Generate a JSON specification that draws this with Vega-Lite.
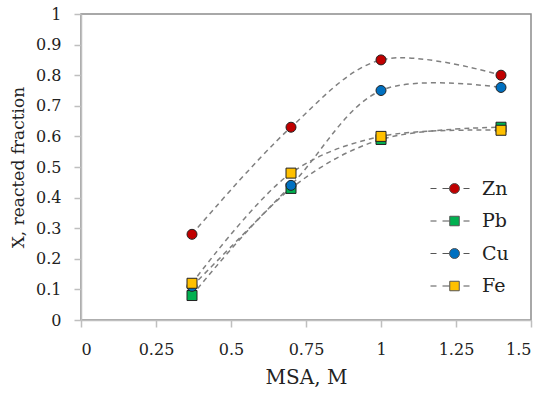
{
  "$schema": "https://vega.github.io/schema/vega-lite/v6.json",
  "width": 450,
  "height": 306,
  "autosize": "none",
  "padding": {"left": 81, "top": 14, "right": 19, "bottom": 74},
  "background": "white",
  "config": {
    "font": "DejaVu Serif",
    "view": {"stroke": "#8c8c8c", "strokeWidth": 1.5},
    "axis": {
      "grid": false,
      "domainColor": "#bfbfbf",
      "domainWidth": 1.5,
      "tickColor": "#bfbfbf",
      "tickWidth": 1.5,
      "tickSize": 7,
      "labelFont": "DejaVu Serif",
      "labelFontSize": 16,
      "labelColor": "#222",
      "titleFont": "DejaVu Serif",
      "titleFontWeight": "normal",
      "titleColor": "#222"
    },
    "legend": {"labelFont": "DejaVu Serif"}
  },
  "data": {
    "values": [
      {"Metal": "Zn", "MSA": 0.37, "X": 0.28},
      {"Metal": "Zn", "MSA": 0.7, "X": 0.63},
      {"Metal": "Zn", "MSA": 1.0, "X": 0.85},
      {"Metal": "Zn", "MSA": 1.4, "X": 0.8},
      {"Metal": "Pb", "MSA": 0.37, "X": 0.08},
      {"Metal": "Pb", "MSA": 0.7, "X": 0.43},
      {"Metal": "Pb", "MSA": 1.0, "X": 0.59},
      {"Metal": "Pb", "MSA": 1.4, "X": 0.63},
      {"Metal": "Cu", "MSA": 0.37, "X": 0.11},
      {"Metal": "Cu", "MSA": 0.7, "X": 0.44},
      {"Metal": "Cu", "MSA": 1.0, "X": 0.75},
      {"Metal": "Cu", "MSA": 1.4, "X": 0.76},
      {"Metal": "Fe", "MSA": 0.37, "X": 0.12},
      {"Metal": "Fe", "MSA": 0.7, "X": 0.48},
      {"Metal": "Fe", "MSA": 1.0, "X": 0.6},
      {"Metal": "Fe", "MSA": 1.4, "X": 0.62}
    ]
  },
  "encoding": {
    "x": {
      "field": "MSA", "type": "quantitative",
      "scale": {"domain": [0, 1.5], "nice": false},
      "axis": {"values": [0, 0.25, 0.5, 0.75, 1, 1.25, 1.5], "format": ".3~g", "title": "MSA, M", "titleFontSize": 20, "labelPadding": 14, "titlePadding": 10}
    },
    "y": {
      "field": "X", "type": "quantitative",
      "scale": {"domain": [0, 1], "nice": false},
      "axis": {"values": [0, 0.1, 0.2, 0.3, 0.4, 0.5, 0.6, 0.7, 0.8, 0.9, 1], "format": ".3~g", "title": "X, reacted fraction", "titleFontSize": 17, "labelPadding": 13, "titlePadding": 8}
    }
  },
  "layer": [
    {
      "mark": {"type": "line", "interpolate": "catmull-rom", "stroke": "#808080", "strokeWidth": 1.5, "strokeDash": [5, 4]},
      "encoding": {"detail": {"field": "Metal"}}
    },
    {
      "mark": {"type": "point", "filled": true, "size": 100, "stroke": "#222", "strokeWidth": 1, "opacity": 1},
      "encoding": {
        "color": {
          "field": "Metal", "type": "nominal",
          "scale": {"domain": ["Zn", "Pb", "Cu", "Fe"], "range": ["#c00000", "#00b050", "#0070c0", "#ffc000"]},
          "legend": {
            "title": null,
            "orient": "none",
            "legendX": 364,
            "legendY": 165,
            "padding": 0,
            "symbolSize": 100,
            "symbolOpacity": 1,
            "symbolStrokeColor": "#555",
            "symbolStrokeWidth": 1,
            "symbolType": {"expr": "datum.value === 'Zn' || datum.value === 'Cu' ? 'M-4.8,0H-3.6M-2.4,0H-1M1.8,0H3M-1,0A1,1 0 1,0 1,0A1,1 0 1,0 -1,0Z' : 'M-4.8,0H-3.6M-2.4,0H-1M1.8,0H3M-0.95,-0.95H0.95V0.95H-0.95Z'"},
            "labelOffset": 18,
            "labelFontSize": 19,
            "labelColor": "#222",
            "rowPadding": 12.5
          }
        },
        "shape": {
          "condition": {"test": "datum.Metal === 'Zn' || datum.Metal === 'Cu'", "value": "circle"},
          "value": "square"
        }
      }
    }
  ]
}
